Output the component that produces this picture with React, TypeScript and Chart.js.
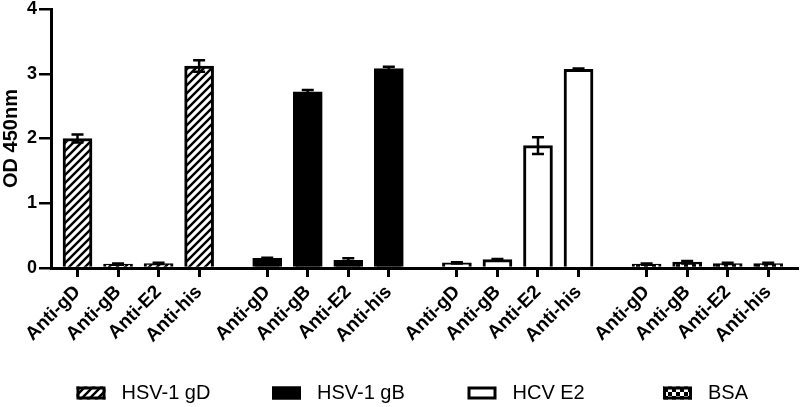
import React, { useEffect, useRef } from 'react';
import { Chart, registerables } from 'chart.js';

Chart.register(...registerables);

// ---- data ----
const antibodies = ['Anti-gD', 'Anti-gB', 'Anti-E2', 'Anti-his'];
const seriesNames = ['HSV-1 gD', 'HSV-1 gB', 'HCV E2', 'BSA'];
const hsv1gD = [2.0, 0.06, 0.07, 3.12];
const hsv1gDErr = [0.06, 0.01, 0.01, 0.09];
const hsv1gB = [0.15, 2.72, 0.12, 3.08];
const hsv1gBErr = [0.01, 0.03, 0.03, 0.03];
const hcvE2 = [0.08, 0.13, 1.89, 3.07];
const hcvE2Err = [0.01, 0.01, 0.13, 0.01];
const bsa = [0.06, 0.09, 0.07, 0.07];
const bsaErr = [0.01, 0.02, 0.01, 0.01];
const yTicks = [0, 1, 2, 3, 4];

const seriesValues = [hsv1gD, hsv1gB, hcvE2, bsa];
const seriesErrors = [hsv1gDErr, hsv1gBErr, hcvE2Err, bsaErr];

const GROUP_STRIDE = 4.68;
const FONT = '"Liberation Sans", Arial, Helvetica, sans-serif';

function makeHatch(): CanvasPattern {
  const c = document.createElement('canvas');
  c.width = 8;
  c.height = 8;
  const ctx = c.getContext('2d')!;
  ctx.fillStyle = '#fff';
  ctx.fillRect(0, 0, 8, 8);
  ctx.strokeStyle = '#000';
  ctx.lineWidth = 2.4;
  ctx.beginPath();
  ctx.moveTo(-2, 10);
  ctx.lineTo(10, -2);
  ctx.moveTo(-2, 2);
  ctx.lineTo(2, -2);
  ctx.moveTo(6, 10);
  ctx.lineTo(10, 6);
  ctx.stroke();
  return ctx.createPattern(c, 'repeat')!;
}

function makeChecker(): CanvasPattern {
  const c = document.createElement('canvas');
  c.width = 8;
  c.height = 8;
  const ctx = c.getContext('2d')!;
  ctx.fillStyle = '#000';
  ctx.fillRect(0, 0, 8, 8);
  ctx.fillStyle = '#fff';
  ctx.fillRect(0, 0, 4, 4);
  ctx.fillRect(4, 4, 4, 4);
  return ctx.createPattern(c, 'repeat')!;
}

const errorBarPlugin = {
  id: 'errorBars',
  afterDatasetsDraw(chart: any) {
    const ctx = chart.ctx;
    const yScale = chart.scales.y;
    ctx.save();
    ctx.strokeStyle = '#000';
    ctx.lineWidth = 2.5;
    chart.data.datasets.forEach((ds: any, di: number) => {
      const meta = chart.getDatasetMeta(di);
      const errs = seriesErrors[di];
      meta.data.forEach((bar: any, i: number) => {
        const v = seriesValues[di][i];
        const e = errs[i];
        const x = bar.x;
        const yTop = yScale.getPixelForValue(v + e);
        const yBot = yScale.getPixelForValue(v - e);
        const cap = 6;
        ctx.beginPath();
        ctx.moveTo(x, yTop);
        ctx.lineTo(x, yBot);
        ctx.moveTo(x - cap, yTop);
        ctx.lineTo(x + cap, yTop);
        ctx.moveTo(x - cap, yBot);
        ctx.lineTo(x + cap, yBot);
        ctx.stroke();
      });
    });
    ctx.restore();
  },
};

const legendPlugin = {
  id: 'customLegend',
  afterDraw(chart: any) {
    const ctx = chart.ctx;
    const area = chart.chartArea;
    const startX = area.left + 25.5;
    const step = 195.5;
    const boxW = 29;
    const boxH = 13;
    const cy = 393;
    ctx.save();
    chart.data.datasets.forEach((ds: any, i: number) => {
      const x = startX + i * step;
      ctx.fillStyle = ds.backgroundColor;
      ctx.fillRect(x, cy - boxH / 2, boxW, boxH);
      ctx.strokeStyle = '#000';
      ctx.lineWidth = 3;
      ctx.strokeRect(x + 1.5, cy - boxH / 2 + 1.5, boxW - 3, boxH - 3);
      ctx.fillStyle = '#000';
      ctx.font = `20px ${FONT}`;
      ctx.textBaseline = 'middle';
      ctx.textAlign = 'left';
      ctx.fillText(ds.label, x + boxW + 16, cy);
    });
    ctx.restore();
  },
};

export default function App() {
  const ref = useRef<HTMLCanvasElement | null>(null);

  useEffect(() => {
    if (!ref.current) return;
    const hatch = makeHatch();
    const checker = makeChecker();
    const fills: any[] = [hatch, '#000', '#fff', checker];
    const positions: number[] = [];
    seriesValues.forEach((vals, s) => vals.forEach((_, i) => positions.push(s * GROUP_STRIDE + i)));

    const chart = new Chart(ref.current, {
      type: 'bar',
      data: {
        datasets: seriesValues.map((vals, s) => ({
          label: seriesNames[s],
          data: vals.map((v, i) => ({ x: s * GROUP_STRIDE + i, y: v })),
          backgroundColor: fills[s],
          borderColor: '#000',
          borderWidth: 3,
          barThickness: 29,
          grouped: false,
        })) as any,
      },
      options: {
        animation: false,
        responsive: true,
        maintainAspectRatio: false,
        layout: { padding: { top: 9, right: 3, left: 0, bottom: 0 } },
        plugins: {
          legend: { display: false },
          tooltip: { enabled: false },
        },
        scales: {
          x: {
            type: 'linear',
            min: -0.654,
            max: 17.75,
            offset: false,
            afterBuildTicks: (scale: any) => {
              scale.ticks = positions.map((v) => ({ value: v }));
            },
            afterFit: (scale: any) => {
              scale.height = 139;
            },
            ticks: {
              autoSkip: false,
              minRotation: 45,
              maxRotation: 45,
              padding: 4,
              color: '#000',
              font: { family: FONT, size: 19, weight: 'bold' },
              callback: (_v: any, idx: number) => antibodies[idx % antibodies.length],
            },
            grid: {
              offset: false,
              drawOnChartArea: false,
              drawTicks: true,
              tickLength: 9,
              lineWidth: 3,
              color: '#000',
            },
            border: { display: true, width: 3, color: '#000' },
          },
          y: {
            min: 0,
            max: 4,
            afterBuildTicks: (scale: any) => {
              scale.ticks = yTicks.map((v) => ({ value: v }));
            },
            afterFit: (scale: any) => {
              scale.width = 51;
              scale.paddingTop = 0;
              scale.paddingBottom = 0;
            },
            ticks: {
              padding: 2,
              color: '#000',
              font: { family: FONT, size: 18, weight: 'bold' },
            },
            grid: {
              drawOnChartArea: false,
              drawTicks: true,
              tickLength: 12,
              lineWidth: 2.5,
              color: '#000',
            },
            border: { display: true, width: 3, color: '#000' },
            title: {
              display: true,
              text: 'OD 450nm',
              color: '#000',
              padding: { top: -1, bottom: 0 },
              font: { family: FONT, size: 20, weight: 'bold' },
            },
          },
        },
      } as any,
      plugins: [errorBarPlugin, legendPlugin],
    });
    return () => chart.destroy();
  }, []);

  return (
    <div style={{ position: 'absolute', left: 0, top: 0, width: 800, height: 407, background: '#fff' }}>
      <canvas ref={ref} />
    </div>
  );
}
